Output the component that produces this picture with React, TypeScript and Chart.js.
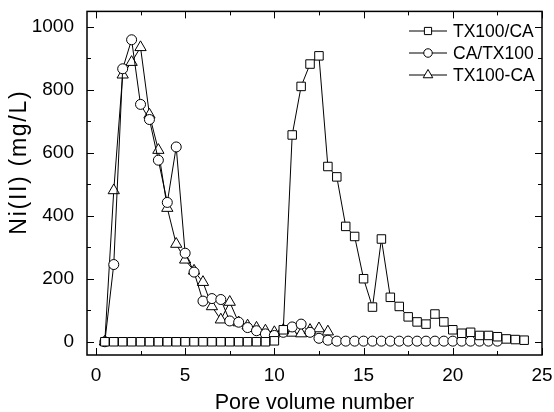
import React, { useEffect, useRef } from "react";
import { Chart, registerables } from "chart.js";

Chart.register(...registerables);

// ---- data ----
const seriesLabels = ["TX100/CA", "CA/TX100", "TX100-CA"];

const sqX = [0.5, 1, 1.5, 2, 2.5, 3, 3.5, 4, 4.5, 5, 5.5, 6, 6.5, 7, 7.5, 8, 8.5, 9, 9.5, 10,
  10.5, 11, 11.5, 12, 12.5, 13, 13.5, 14, 14.5, 15, 15.5, 16, 16.5, 17, 17.5, 18, 18.5, 19, 19.5,
  20, 20.5, 21, 21.5, 22, 22.5, 23, 23.5, 24];
const sqY = [0, 0, 0, 0, 0, 0, 0, 0, 0, 0, 0, 0, 0, 0, 0, 0, 0, 0, 0, 3,
  38, 656, 810, 881, 907, 556, 523, 366, 334, 200, 110, 326, 141, 112, 79, 63, 56, 88, 63,
  38, 27, 30, 20, 20, 16, 9, 7, 5];

const ciX = [0.5, 1, 1.5, 2, 2.5, 3, 3.5, 4, 4.5, 5, 5.5, 6, 6.5, 7, 7.5, 8, 8.5, 9, 9.5, 10,
  10.5, 11, 11.5, 12, 12.5, 13, 13.5, 14, 14.5, 15, 15.5, 16, 16.5, 17, 17.5, 18, 18.5, 19, 19.5,
  20, 20.5, 21, 21.5, 22, 22.5];
const ciY = [0, 245, 866, 958, 753, 705, 576, 442, 618, 281, 221, 129, 137, 134, 66, 62, 45, 35, 25, 20,
  30, 47, 56, 30, 11, 5, 2, 2, 2, 2, 2, 2, 2, 2, 2, 2, 2, 2, 2,
  2, 2, 2, 2, 2, 2];

const trX = [0.5, 1, 1.5, 2, 2.5, 3, 3.5, 4, 4.5, 5, 5.5, 6, 6.5, 7, 7.5, 8, 8.5, 9, 9.5, 10,
  10.5, 11, 11.5, 12, 12.5, 13];
const trY = [0, 480, 847, 887, 934, 720, 608, 424, 310, 260, 225, 189, 112, 70, 126, 61, 51, 44, 35, 30,
  37, 28, 26, 37, 42, 32];

const xTicks = [0, 5, 10, 15, 20, 25];
const xMinorTicks = [2.5, 7.5, 12.5, 17.5, 22.5];
const yTicks = [0, 200, 400, 600, 800, 1000];
const yMinorTicks = [100, 300, 500, 700, 900];

const xTitle = "Pore volume number";
const yTitle = "Ni(II) (mg/L)";

const FONT = "'Liberation Sans', Arial, Helvetica, sans-serif";

function toPoints(xs: number[], ys: number[]) {
  return xs.map((x, i) => ({ x, y: ys[i] }));
}

function drawMarker(ctx: CanvasRenderingContext2D, style: string, x: number, y: number, r: number) {
  ctx.beginPath();
  if (style === "rect") {
    const s = Math.SQRT1_2 * r;
    ctx.rect(x - s, y - s, 2 * s, 2 * s);
  } else if (style === "circle") {
    ctx.arc(x, y, r, 0, Math.PI * 2);
  } else if (style === "triangle") {
    let a = 0;
    ctx.moveTo(x + Math.sin(a) * r, y - Math.cos(a) * r);
    a += (2 * Math.PI) / 3;
    ctx.lineTo(x + Math.sin(a) * r, y - Math.cos(a) * r);
    a += (2 * Math.PI) / 3;
    ctx.lineTo(x + Math.sin(a) * r, y - Math.cos(a) * r);
    ctx.closePath();
  }
  ctx.fillStyle = "#fff";
  ctx.fill();
  ctx.stroke();
}

const framePlugin = {
  id: "frameTicks",
  beforeDatasetsDraw(chart: any) {
    const { ctx, chartArea, scales } = chart;
    const { left, right, top, bottom } = chartArea;
    ctx.save();
    ctx.strokeStyle = "#000";
    ctx.lineWidth = 1;
    const seg = (x1: number, y1: number, x2: number, y2: number) => {
      ctx.beginPath();
      ctx.moveTo(x1, y1);
      ctx.lineTo(x2, y2);
      ctx.stroke();
    };
    const xt = (v: number, len: number) => {
      const p = Math.round(scales.x.getPixelForValue(v)) + 0.5;
      seg(p, bottom, p, bottom - len);
      seg(p, top, p, top + len);
    };
    const yt = (v: number, len: number) => {
      const p = Math.round(scales.y.getPixelForValue(v)) + 0.5;
      seg(left, p, left + len, p);
      seg(right, p, right - len, p);
    };
    xTicks.forEach((v) => xt(v, 7));
    xMinorTicks.forEach((v) => xt(v, 4));
    yTicks.forEach((v) => yt(v, 7));
    yMinorTicks.forEach((v) => yt(v, 4));
    ctx.lineWidth = 1.5;
    ctx.strokeRect(left, top, right - left, bottom - top);
    ctx.restore();
  },
};

// y-axis title drawn rotated, slightly letter-spaced like the original
const yTitlePlugin = {
  id: "yTitle",
  afterDraw(chart: any) {
    const { ctx } = chart;
    ctx.save();
    ctx.font = `23px ${FONT}`;
    ctx.fillStyle = "#000";
    ctx.textAlign = "center";
    ctx.textBaseline = "middle";
    const n = yTitle.length;
    const w = ctx.measureText(yTitle).width;
    const spacing = Math.max(0, (145 - w) / n);
    try {
      (ctx as any).letterSpacing = `${spacing.toFixed(2)}px`;
    } catch (e) {}
    ctx.translate(20, 163);
    ctx.rotate(-Math.PI / 2);
    ctx.fillText(yTitle, spacing / 2, 0);
    ctx.restore();
  },
};

const legendPlugin = {
  id: "lineLegend",
  afterDraw(chart: any) {
    const { ctx } = chart;
    ctx.save();
    ctx.strokeStyle = "#000";
    ctx.lineWidth = 1;
    ctx.font = `17.5px ${FONT}`;
    ctx.textBaseline = "middle";
    ctx.textAlign = "left";
    chart.data.datasets.forEach((ds: any, i: number) => {
      const y = 31 + i * 22;
      ctx.beginPath();
      ctx.moveTo(409, y);
      ctx.lineTo(447, y);
      ctx.stroke();
      drawMarker(ctx, ds.pointStyle, 428, y, ds.pointRadius * 0.85);
      ctx.fillStyle = "#000";
      ctx.fillText(ds.label, 453, y + 1);
    });
    ctx.restore();
  },
};

export default function App() {
  const ref = useRef<HTMLCanvasElement | null>(null);

  useEffect(() => {
    if (!ref.current) return;
    const common = {
      borderColor: "#000",
      borderWidth: 1,
      pointBorderColor: "#000",
      pointBackgroundColor: "#fff",
      pointBorderWidth: 1,
      fill: false,
      tension: 0,
    };
    const chart = new Chart(ref.current, {
      type: "line",
      data: {
        datasets: [
          { ...common, label: seriesLabels[0], data: toPoints(sqX, sqY), pointStyle: "rect", pointRadius: 6 },
          { ...common, label: seriesLabels[1], data: toPoints(ciX, ciY), pointStyle: "circle", pointRadius: 5 },
          { ...common, label: seriesLabels[2], data: toPoints(trX, trY), pointStyle: "triangle", pointRadius: 6.5 },
        ],
      },
      options: {
        responsive: false,
        animation: false,
        devicePixelRatio: 1,
        layout: { padding: { top: 10, right: 12, left: 0, bottom: 0 } },
        plugins: { legend: { display: false }, tooltip: { enabled: false } },
        scales: {
          x: {
            type: "linear",
            min: -0.5,
            max: 25,
            grid: { display: false, drawTicks: true, tickLength: 9, color: "rgba(0,0,0,0)" },
            border: { display: false },
            afterBuildTicks: (s: any) => {
              s.ticks = xTicks.map((v) => ({ value: v }));
            },
            afterFit: (s: any) => {
              s.height = 57;
            },
            ticks: {
              color: "#000",
              padding: 0,
              maxRotation: 0,
              font: { family: FONT, size: 19 },
              callback: (v: any) => String(v),
            },
            title: {
              display: true,
              text: xTitle,
              color: "#000",
              font: { family: FONT, size: 21.5, lineHeight: 0.85 },
              padding: { top: 0, bottom: 0 },
            },
          },
          y: {
            type: "linear",
            min: -42,
            max: 1048,
            grid: { display: false, drawTicks: true, tickLength: 13, color: "rgba(0,0,0,0)" },
            border: { display: false },
            afterBuildTicks: (s: any) => {
              s.ticks = yTicks.map((v) => ({ value: v }));
            },
            afterFit: (s: any) => {
              s.width = 87;
            },
            ticks: {
              color: "#000",
              padding: 0,
              font: { family: FONT, size: 19 },
              callback: (v: any) => String(v),
            },
            title: { display: false, text: yTitle },
          },
        },
      },
      plugins: [framePlugin, legendPlugin, yTitlePlugin],
    } as any);
    return () => chart.destroy();
  }, []);

  return (
    <canvas
      ref={ref}
      width={554}
      height={412}
      style={{ position: "absolute", left: 0, top: 0, display: "block" }}
    />
  );
}
